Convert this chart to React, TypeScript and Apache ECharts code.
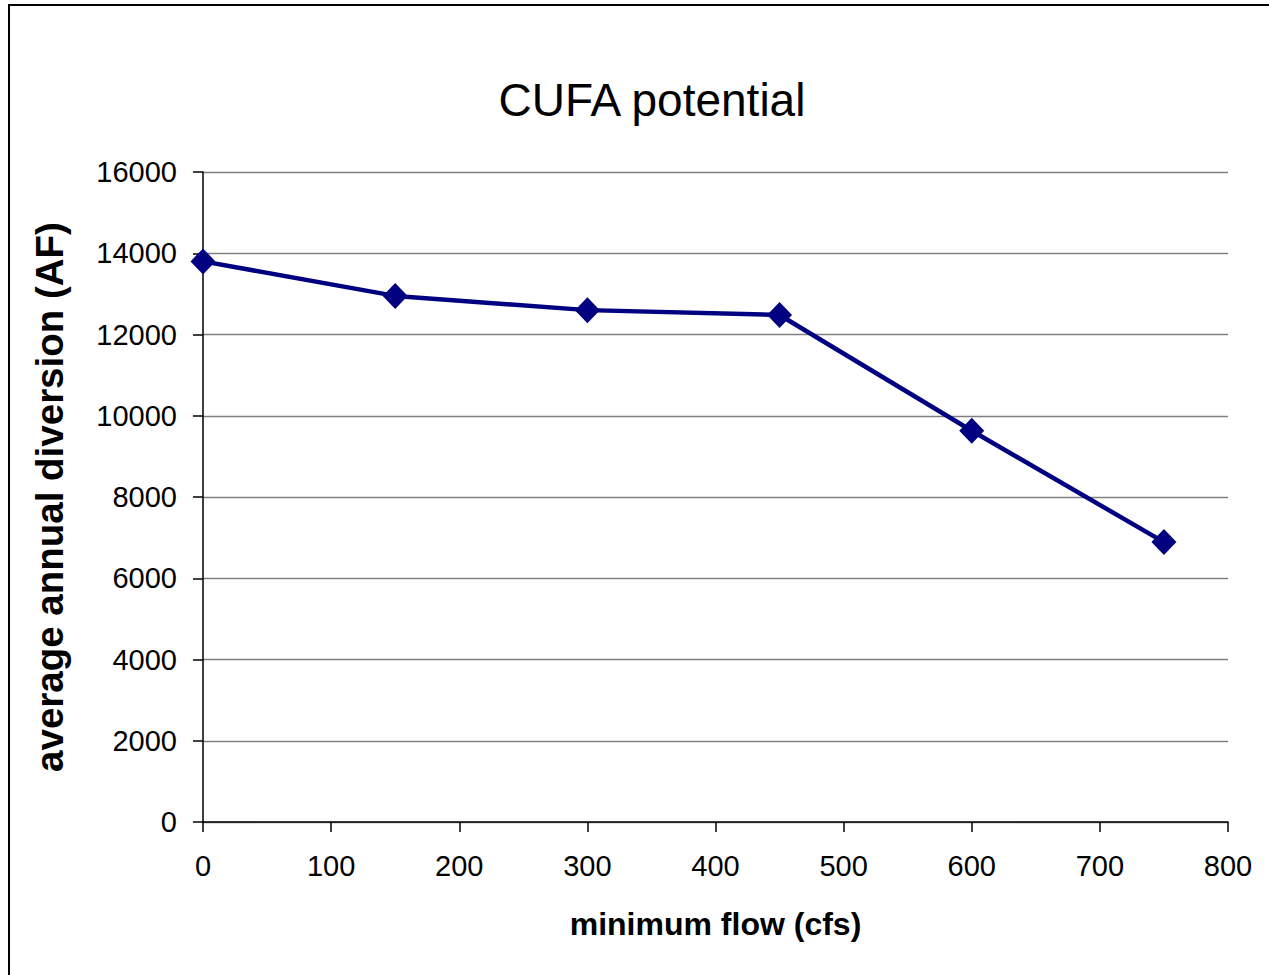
import React, { useEffect, useRef } from "react";
import * as echarts from "echarts";

const flows = [0, 150, 300, 450, 600, 750];
const diversions = [13800, 12950, 12600, 12480, 9630, 6890];
const titleText = "CUFA potential";
const xName = "minimum flow (cfs)";
const yName = "average annual diversion (AF)";

export default function App() {
  const ref = useRef<HTMLDivElement>(null);
  useEffect(() => {
    if (!ref.current) return;
    const chart = echarts.init(ref.current, null, { renderer: "svg" });
    const font = "'Liberation Sans', Arial, sans-serif";
    chart.setOption({
      animation: false,
      backgroundColor: "#ffffff",
      textStyle: { fontFamily: font },
      title: {
        text: titleText,
        left: 647,
        top: 72,
        textAlign: "center",
        textStyle: { fontFamily: font, fontSize: 46, fontWeight: "normal", color: "#000" },
      },
      graphic: [
        {
          type: "rect",
          shape: { x: 9, y: 5, width: 1300, height: 1000 },
          style: { fill: "none", stroke: "#000", lineWidth: 2 },
          silent: true,
        },
      ],
      grid: { left: 203, top: 172, right: 41, bottom: 153, containLabel: false },
      xAxis: {
        type: "value",
        min: 0,
        max: 800,
        interval: 100,
        name: xName,
        nameLocation: "middle",
        nameGap: 86,
        nameTextStyle: { fontFamily: font, fontSize: 32, fontWeight: "bold", color: "#000" },
        axisLine: { show: true, onZero: false, lineStyle: { color: "#000", width: 1.5 } },
        axisTick: { show: true, inside: false, length: 10, lineStyle: { color: "#000", width: 1.5 } },
        axisLabel: { fontFamily: font, fontSize: 29, color: "#000", margin: 29, formatter: (v: number) => String(v) },
        splitLine: { show: false },
      },
      yAxis: {
        type: "value",
        min: 0,
        max: 16000,
        interval: 2000,
        name: yName,
        nameLocation: "middle",
        nameGap: 134,
        nameRotate: 90,
        nameTextStyle: { fontFamily: font, fontSize: 38.5, fontWeight: "bold", color: "#000" },
        axisLine: { show: true, lineStyle: { color: "#000", width: 1.5 } },
        axisTick: { show: true, inside: false, length: 10, lineStyle: { color: "#000", width: 1.5 } },
        axisLabel: { fontFamily: font, fontSize: 29, color: "#000", margin: 26, formatter: (v: number) => String(v) },
        splitLine: { show: true, lineStyle: { color: "#808080", width: 1.3 } },
      },
      series: [
        {
          type: "line",
          data: flows.map((f, i) => [f, diversions[i]]),
          symbol: "diamond",
          symbolSize: [25, 26],
          lineStyle: { color: "#000080", width: 4.5 },
          itemStyle: { color: "#000080" },
          z: 5,
        },
      ],
    });
    return () => chart.dispose();
  }, []);
  return (
    <div
      ref={ref}
      style={{ position: "absolute", left: 0, top: 0, width: 1269, height: 975 }}
    />
  );
}
